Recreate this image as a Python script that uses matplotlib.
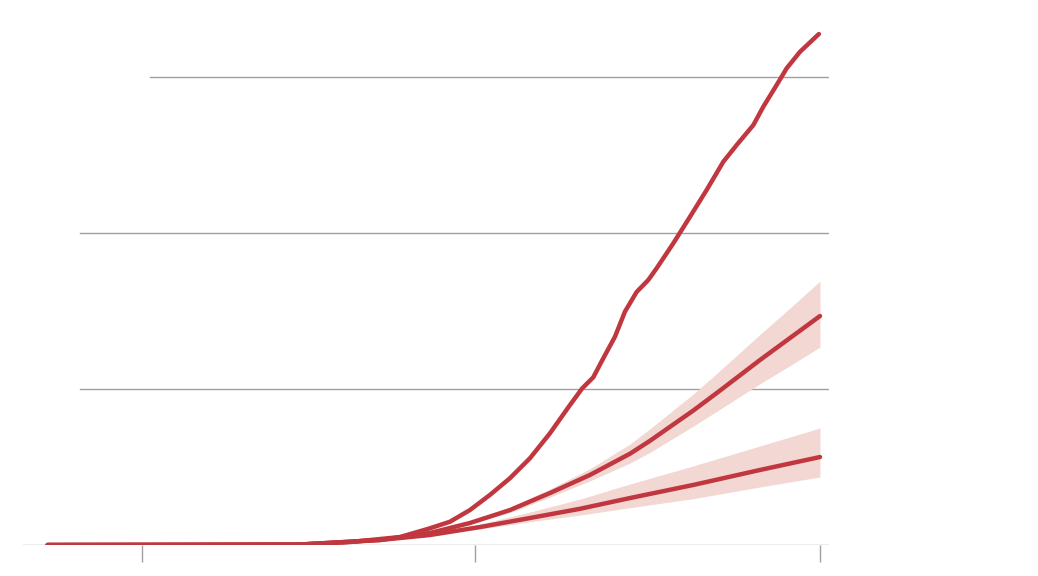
import numpy as np
import matplotlib
matplotlib.use("Agg")
import matplotlib.pyplot as plt

# Datos (días desde el primer tick, valores en unidades de la rejilla)
top_days = [-8.5, 5.2, 14.2, 18.7, 23.2, 25.9, 27.7, 29.5, 31.3, 33.1, 34.9, 36.7,
            38.5, 39.6, 40.6, 41.5, 42.55, 43.45, 44.5, 45.55, 46.3, 47.8, 49.3,
            50.8, 52.3, 53.5, 55.0, 55.9, 57.1, 58.0, 59.2, 60.9]
top_vals = [0, 0, 0.003, 0.019, 0.051, 0.107, 0.149, 0.224, 0.321, 0.428, 0.556, 0.716,
            0.897, 1.004, 1.075, 1.197, 1.335, 1.496, 1.622, 1.699, 1.774, 1.934, 2.104,
            2.276, 2.457, 2.564, 2.692, 2.81, 2.949, 3.056, 3.162, 3.276]

mid_days = [-8.5, 14.2, 21.4, 25.9, 29.5, 33.1, 36.7, 40.3, 43.9, 45.7, 49.6, 52.0, 55.6, 58.3, 61.0]
mid_vals = [0, 0.003, 0.032, 0.077, 0.141, 0.224, 0.333, 0.449, 0.585, 0.668, 0.862, 0.99, 1.186, 1.327, 1.468]
mid_up = [0, 0, 0, 0, 0.006, 0.016, 0.026, 0.04, 0.062, 0.077, 0.106, 0.128, 0.164, 0.192, 0.224]
mid_dn = [0, 0, 0, 0, 0.006, 0.016, 0.026, 0.038, 0.06, 0.074, 0.1, 0.12, 0.152, 0.177, 0.199]

low_days = [-8.5, 14.2, 21.4, 25.9, 30.4, 34.9, 39.4, 43.9, 49.6, 55.6, 61.0]
low_vals = [0, 0.003, 0.032, 0.064, 0.115, 0.173, 0.232, 0.301, 0.385, 0.481, 0.564]
low_up = [0, 0, 0, 0, 0.019, 0.038, 0.062, 0.09, 0.122, 0.154, 0.186]
low_dn = [0, 0, 0, 0, 0.013, 0.024, 0.04, 0.062, 0.088, 0.109, 0.128]

tick_days = [0, 30, 61]
grid_vals = [1, 2, 3]

red = "#c1373f"
band = "#f2d7d2"
grey = "#a0a0a0"

fig = plt.figure(figsize=(10.38, 5.76), dpi=100)
ax = fig.add_axes([23 / 1038, 31 / 576, 806 / 1038, 545 / 576])
ax.set_xlim(-10.71, 61.81)
ax.set_ylim(0, 3.494)

# rejilla horizontal
grid_start = {1: 0.0707, 2: 0.0707, 3: 0.1576}
for g in grid_vals:
    ax.axhline(g, xmin=grid_start[g], xmax=1, color=grey, lw=1, zorder=1)
ax.axhline(0, color=grey, lw=1, zorder=1)

# bandas de incertidumbre
for days, vals, up, dn in [(mid_days, mid_vals, mid_up, mid_dn),
                           (low_days, low_vals, low_up, low_dn)]:
    v = np.array(vals)
    ax.fill_between(days, v - np.array(dn), v + np.array(up), color=band, lw=0, zorder=2)

line_kw = dict(color=red, lw=3.2, solid_capstyle="round", solid_joinstyle="round")
ax.plot(low_days, low_vals, zorder=3, **line_kw)
ax.plot(mid_days, mid_vals, zorder=3, **line_kw)
ax.plot(top_days, top_vals, zorder=4, **line_kw)

for s in ax.spines.values():
    s.set_visible(False)
ax.set_yticks([])
ax.set_xticks(tick_days)
ax.set_xticklabels([])
ax.tick_params(axis="x", length=12, width=1, color=grey, direction="out")

fig.savefig("out.png", dpi=100, facecolor="white")
